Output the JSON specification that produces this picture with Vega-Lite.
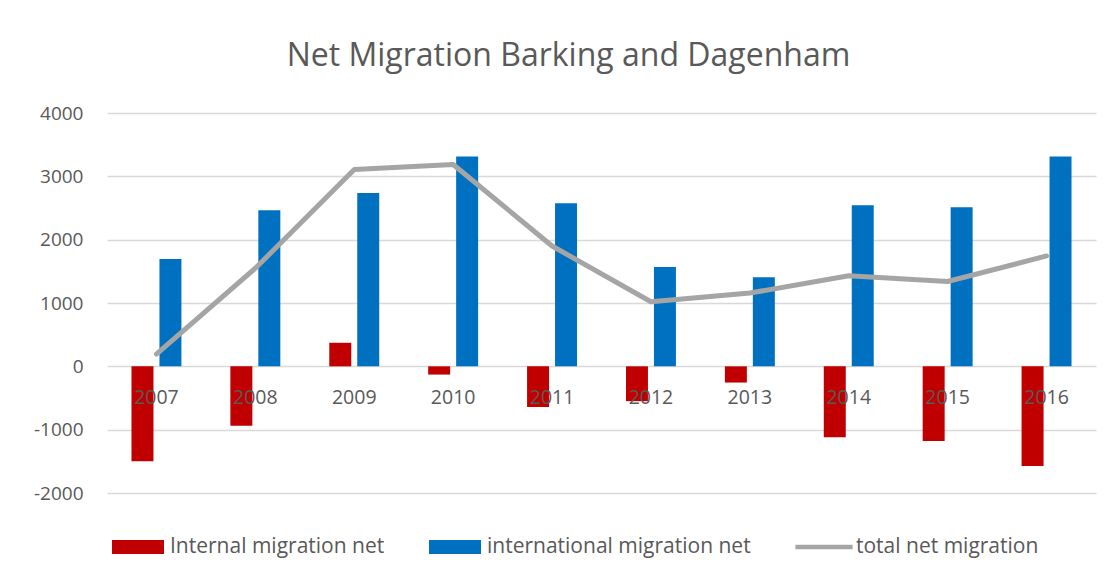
{
  "$schema": "https://vega.github.io/schema/vega-lite/v6.json",
  "width": 989,
  "height": 380,
  "autosize": {"type": "none"},
  "padding": {"left": 107, "top": 113, "right": 22, "bottom": 83},
  "background": "white",
  "config": {"view": {"stroke": null}, "font": "Open Sans"},
  "title": {
    "text": "Net Migration Barking and Dagenham",
    "fontSize": 32,
    "fontWeight": "normal",
    "color": "#595959",
    "anchor": "middle",
    "offset": 31,
    "dx": -33
  },
  "data": {
    "values": [
      {"year": "2007", "series": "Internal migration net", "value": -1500},
      {"year": "2008", "series": "Internal migration net", "value": -937},
      {"year": "2009", "series": "Internal migration net", "value": 372},
      {"year": "2010", "series": "Internal migration net", "value": -130},
      {"year": "2011", "series": "Internal migration net", "value": -644},
      {"year": "2012", "series": "Internal migration net", "value": -550},
      {"year": "2013", "series": "Internal migration net", "value": -256},
      {"year": "2014", "series": "Internal migration net", "value": -1119},
      {"year": "2015", "series": "Internal migration net", "value": -1177},
      {"year": "2016", "series": "Internal migration net", "value": -1575},
      {"year": "2007", "series": "international migration net", "value": 1695},
      {"year": "2008", "series": "international migration net", "value": 2465},
      {"year": "2009", "series": "international migration net", "value": 2736},
      {"year": "2010", "series": "international migration net", "value": 3312},
      {"year": "2011", "series": "international migration net", "value": 2575},
      {"year": "2012", "series": "international migration net", "value": 1570},
      {"year": "2013", "series": "international migration net", "value": 1408},
      {"year": "2014", "series": "international migration net", "value": 2543},
      {"year": "2015", "series": "international migration net", "value": 2512},
      {"year": "2016", "series": "international migration net", "value": 3312},
      {"year": "2007", "series": "total net migration", "value": 192},
      {"year": "2008", "series": "total net migration", "value": 1549},
      {"year": "2009", "series": "total net migration", "value": 3108},
      {"year": "2010", "series": "total net migration", "value": 3187},
      {"year": "2011", "series": "total net migration", "value": 1900},
      {"year": "2012", "series": "total net migration", "value": 1020},
      {"year": "2013", "series": "total net migration", "value": 1157},
      {"year": "2014", "series": "total net migration", "value": 1429},
      {"year": "2015", "series": "total net migration", "value": 1339},
      {"year": "2016", "series": "total net migration", "value": 1743}
    ]
  },
  "encoding": {
    "x": {
      "field": "year",
      "type": "nominal",
      "scale": {"paddingInner": 0, "paddingOuter": 0},
      "axis": {
        "title": null,
        "orient": "bottom",
        "offset": -127,
        "domain": false,
        "ticks": false,
        "tickSize": 0,
        "labelPadding": 31,
        "labelBaseline": "middle",
        "labelAngle": 0,
        "labelFontSize": 19.5,
        "labelColor": "#595959",
        "zindex": 2
      }
    },
    "y": {
      "field": "value",
      "type": "quantitative",
      "scale": {"domain": [-2000, 4000], "nice": false, "zero": false},
      "axis": {
        "title": null,
        "values": [-2000, -1000, 0, 1000, 2000, 3000, 4000],
        "labelExpr": "'' + datum.value",
        "domain": false,
        "ticks": false,
        "tickSize": 0,
        "labelPadding": 24,
        "labelFontSize": 19,
        "labelColor": "#595959",
        "gridColor": "#d9d9d9",
        "gridWidth": 1.3
      }
    },
    "color": {
      "field": "series",
      "type": "nominal",
      "scale": {
        "domain": ["Internal migration net", "international migration net", "total net migration"],
        "range": ["#c00000", "#0070c0", "#a5a5a5"]
      },
      "legend": {
        "title": null,
        "orient": "none",
        "direction": "horizontal",
        "legendX": 5,
        "legendY": 408,
        "padding": 0,
        "symbolSize": 2704,
        "labelOffset": 6,
        "labelLimit": 0,
        "columnPadding": 44,
        "labelFontSize": 21,
        "labelColor": "#595959",
        "encode": {
          "symbols": {
            "update": {
              "shape": {"signal": "datum.label === 'total net migration' ? 'M-1.1,-0.09H1.1V0.09H-1.1Z' : 'M-1,-0.27H1V0.27H-1Z'"},
              "fill": {"signal": "scale('color', datum.value)"},
              "stroke": {"value": "transparent"},
              "strokeWidth": {"value": 0},
              "opacity": {"value": 1}
            }
          }
        }
      }
    }
  },
  "layer": [
    {
      "transform": [{"filter": "datum.series !== 'total net migration'"}],
      "mark": {"type": "bar"},
      "encoding": {
        "xOffset": {
          "field": "series",
          "type": "nominal",
          "scale": {"paddingInner": 0.214, "paddingOuter": 0.875}
        }
      }
    },
    {
      "transform": [{"filter": "datum.series === 'total net migration'"}],
      "mark": {"type": "line", "strokeWidth": 5, "strokeCap": "round", "strokeJoin": "round"},
      "encoding": {}
    }
  ]
}
